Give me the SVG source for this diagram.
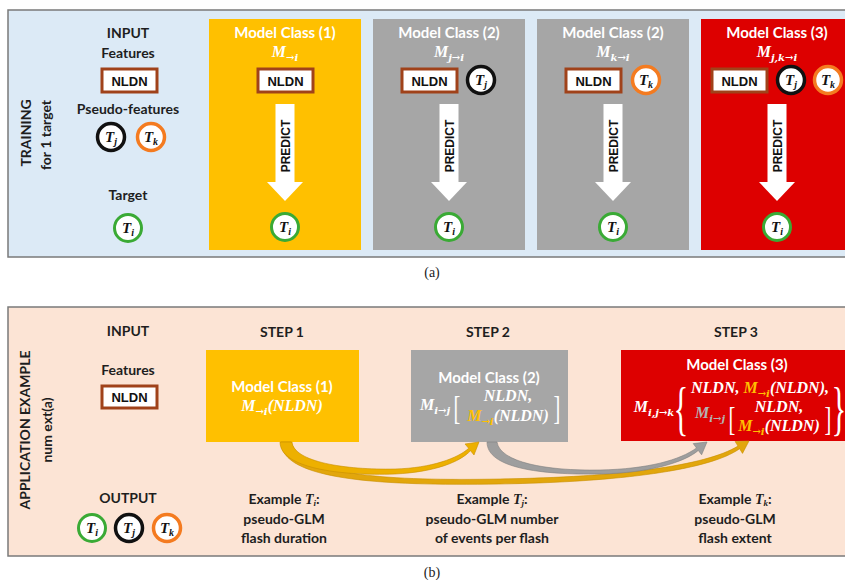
<svg xmlns="http://www.w3.org/2000/svg" width="845" height="580" viewBox="0 0 845 580">
<defs>
<style>
.lbl{font-family:Lato,"Open Sans","Liberation Sans",sans-serif;font-weight:700;font-size:14px;fill:#1e1e1e;text-anchor:middle}
.hdr{font-family:Lato,"Open Sans","Liberation Sans",sans-serif;font-weight:700;font-size:15px;fill:#fff;text-anchor:middle}
.math{font-family:"Liberation Serif",serif;font-style:italic;font-weight:700;font-size:16px;fill:#fff;text-anchor:middle}
.sub{font-family:"DejaVu Serif","Liberation Serif",serif;font-size:10px;font-style:italic;font-weight:700}
.cm{font-family:"Liberation Serif",serif;font-style:italic;font-weight:700;font-size:15px;fill:#111;text-anchor:middle}
.nb{fill:#fff;stroke:#A0421A;stroke-width:3}
.nt{font-family:"Liberation Sans",Arial,sans-serif;font-weight:700;font-size:13px;fill:#111;text-anchor:middle}
.cg{fill:#fff;stroke:#3AAA35;stroke-width:3}
.cb{fill:#fff;stroke:#111;stroke-width:3.5}
.co{fill:#fff;stroke:#F47B20;stroke-width:3.5}
.pt{font-family:"Liberation Sans",Arial,sans-serif;font-weight:700;font-size:12px;fill:#111;text-anchor:middle}
.cap{font-family:"Liberation Serif",serif;font-size:14px;fill:#222;text-anchor:middle}
.dl{font-family:"Liberation Serif",serif;font-weight:400;fill:#fff;text-anchor:middle}
.y{fill:#FFC000}
.g{fill:#B4B4B4}
.ex{font-family:"Liberation Serif",serif;font-style:italic;font-weight:700}
</style>
</defs>

<!-- Panel (a) -->
<g id="panel-a">
<rect x="8" y="10" width="850" height="247" fill="#DCEAF6" stroke="#7A7A7A" stroke-width="1.5"/>
<text class="lbl" transform="translate(25,133) rotate(-90)" dominant-baseline="central">TRAINING</text>
<text class="lbl" transform="translate(45,135) rotate(-90)" dominant-baseline="central">for 1 target</text>
</g>

<g id="input-a">
<text class="lbl" x="128" y="38">INPUT</text>
<text class="lbl" x="128" y="58">Features</text>
<rect class="nb" x="102" y="69" width="55" height="23"/>
<text class="nt" x="129.5" y="85.5">NLDN</text>
<text class="lbl" x="128" y="114">Pseudo-features</text>
<circle class="cb" cx="111" cy="137" r="13.5"/>
<text class="cm" x="111" y="142">T<tspan font-size="10" dy="3">j</tspan></text>
<circle class="co" cx="151" cy="137" r="13.5"/>
<text class="cm" x="151" y="142">T<tspan font-size="10" dy="3">k</tspan></text>
<text class="lbl" x="128" y="200">Target</text>
<circle class="cg" cx="128" cy="228" r="13.5"/>
<text class="cm" x="128" y="233">T<tspan font-size="10" dy="3">i</tspan></text>
</g>

<g id="class1-a">
<rect x="209" y="19" width="152" height="231" fill="#FFC000"/>
<text class="hdr" x="285" y="38">Model Class (1)</text>
<text class="math" x="285" y="57">M<tspan class="sub" dy="4">→i</tspan></text>
<rect class="nb" x="258" y="69" width="55" height="23"/>
<text class="nt" x="285.5" y="85.5">NLDN</text>
<rect x="275.5" y="104" width="19" height="79" fill="#fff"/>
<polygon points="267,182 303,182 285,201" fill="#fff"/>
<text class="pt" transform="translate(286,146) rotate(-90)" dominant-baseline="central">PREDICT</text>
<circle class="cg" cx="285" cy="227" r="13.5"/>
<text class="cm" x="285" y="232">T<tspan font-size="10" dy="3">i</tspan></text>
</g>

<g id="class2j-a">
<rect x="373" y="19" width="152" height="231" fill="#A6A6A6"/>
<text class="hdr" x="449" y="38">Model Class (2)</text>
<text class="math" x="449" y="57">M<tspan class="sub" dy="4">j→i</tspan></text>
<rect class="nb" x="402" y="69" width="55" height="23"/>
<text class="nt" x="429.5" y="85.5">NLDN</text>
<circle class="cb" cx="481" cy="80" r="13.5"/>
<text class="cm" x="481" y="85">T<tspan font-size="10" dy="3">j</tspan></text>
<rect x="439.5" y="104" width="19" height="79" fill="#fff"/>
<polygon points="431,182 467,182 449,201" fill="#fff"/>
<text class="pt" transform="translate(450,146) rotate(-90)" dominant-baseline="central">PREDICT</text>
<circle class="cg" cx="449" cy="227" r="13.5"/>
<text class="cm" x="449" y="232">T<tspan font-size="10" dy="3">i</tspan></text>
</g>

<g id="class2k-a">
<rect x="537" y="19" width="152" height="231" fill="#A6A6A6"/>
<text class="hdr" x="613" y="38">Model Class (2)</text>
<text class="math" x="613" y="57">M<tspan class="sub" dy="4">k→i</tspan></text>
<rect class="nb" x="566" y="69" width="55" height="23"/>
<text class="nt" x="593.5" y="85.5">NLDN</text>
<circle class="co" cx="646" cy="80" r="13.5"/>
<text class="cm" x="646" y="85">T<tspan font-size="10" dy="3">k</tspan></text>
<rect x="603.5" y="104" width="19" height="79" fill="#fff"/>
<polygon points="595,182 631,182 613,201" fill="#fff"/>
<text class="pt" transform="translate(614,146) rotate(-90)" dominant-baseline="central">PREDICT</text>
<circle class="cg" cx="613" cy="227" r="13.5"/>
<text class="cm" x="613" y="232">T<tspan font-size="10" dy="3">i</tspan></text>
</g>

<g id="class3-a">
<rect x="701" y="19" width="152" height="231" fill="#DD0000"/>
<text class="hdr" x="777" y="38">Model Class (3)</text>
<text class="math" x="777" y="57">M<tspan class="sub" dy="4">j,k→i</tspan></text>
<rect class="nb" x="712" y="69" width="55" height="23"/>
<text class="nt" x="739.5" y="85.5">NLDN</text>
<circle class="cb" cx="791" cy="80" r="13.5"/>
<text class="cm" x="791" y="85">T<tspan font-size="10" dy="3">j</tspan></text>
<circle class="co" cx="828" cy="80" r="13.5"/>
<text class="cm" x="828" y="85">T<tspan font-size="10" dy="3">k</tspan></text>
<rect x="767.5" y="104" width="19" height="79" fill="#fff"/>
<polygon points="759,182 795,182 777,201" fill="#fff"/>
<text class="pt" transform="translate(778,146) rotate(-90)" dominant-baseline="central">PREDICT</text>
<circle class="cg" cx="777" cy="227" r="13.5"/>
<text class="cm" x="777" y="232">T<tspan font-size="10" dy="3">i</tspan></text>
</g>

<text class="cap" x="432" y="277">(a)</text>

<!-- Panel (b) -->
<g id="panel-b">
<rect x="8" y="307" width="850" height="249" fill="#FCE4D5" stroke="#7A7A7A" stroke-width="1.5"/>
<text class="lbl" transform="translate(24,430) rotate(-90)" dominant-baseline="central">APPLICATION EXAMPLE</text>
<text class="lbl" transform="translate(46,430) rotate(-90)" dominant-baseline="central">num ext(a)</text>
</g>

<g id="input-b">
<text class="lbl" x="128" y="336">INPUT</text>
<text class="lbl" x="128" y="375">Features</text>
<rect class="nb" x="102" y="386" width="55" height="22"/>
<text class="nt" x="129.5" y="402">NLDN</text>
</g>

<g id="output-b">
<text class="lbl" x="128" y="503">OUTPUT</text>
<circle class="cg" cx="92" cy="528" r="13.5"/>
<text class="cm" x="92" y="533">T<tspan font-size="10" dy="3">i</tspan></text>
<circle class="cb" cx="129" cy="528" r="13.5"/>
<text class="cm" x="129" y="533">T<tspan font-size="10" dy="3">j</tspan></text>
<circle class="co" cx="167" cy="528" r="13.5"/>
<text class="cm" x="167" y="533">T<tspan font-size="10" dy="3">k</tspan></text>
</g>

<g id="step1">
<text class="lbl" x="282" y="337">STEP 1</text>
<rect x="206" y="350" width="153" height="92" fill="#FFC000"/>
<text class="hdr" x="282" y="392">Model Class (1)</text>
<text class="math" x="282" y="411">M<tspan class="sub" dy="4">→i</tspan><tspan dy="-4">(NLDN)</tspan></text>
<text class="lbl" x="284" y="504">Example <tspan class="ex">T</tspan><tspan class="ex" font-size="9" dy="2">i</tspan><tspan dy="-2">:</tspan></text>
<text class="lbl" x="284" y="524">pseudo-GLM</text>
<text class="lbl" x="284" y="543">flash duration</text>
</g>

<g id="step2">
<text class="lbl" x="488" y="337">STEP 2</text>
<rect x="411" y="350" width="157" height="92" fill="#A6A6A6"/>
<text class="hdr" x="489" y="383">Model Class (2)</text>
<text class="math" x="435" y="410">M<tspan class="sub" dy="4">i→j</tspan></text>
<text class="dl" x="0" y="0" font-size="34" transform="translate(457,419) scale(0.6,1)">[</text>
<text class="math" x="508" y="401">NLDN,</text>
<text class="math" x="508" y="421"><tspan class="y">M</tspan><tspan class="y sub" dy="4">→i</tspan><tspan dy="-4">(NLDN)</tspan></text>
<text class="dl" x="0" y="0" font-size="34" transform="translate(557,419) scale(0.6,1)">]</text>
<text class="lbl" x="492" y="504">Example <tspan class="ex">T</tspan><tspan class="ex" font-size="9" dy="2">j</tspan><tspan dy="-2">:</tspan></text>
<text class="lbl" x="492" y="524">pseudo-GLM number</text>
<text class="lbl" x="492" y="543">of events per flash</text>
</g>

<g id="step3">
<text class="lbl" x="736" y="337">STEP 3</text>
<rect x="621" y="350" width="232" height="91" fill="#DD0000"/>
<text class="hdr" x="737" y="370">Model Class (3)</text>
<text class="math" x="654" y="412">M<tspan class="sub" dy="4">i,j→k</tspan></text>
<text class="dl" x="0" y="0" font-size="44" transform="translate(681,428) scale(0.7,1.35)">{</text>
<text class="math" x="760" y="393">NLDN, <tspan class="y">M</tspan><tspan class="y sub" dy="4">→i</tspan><tspan dy="-4">(NLDN),</tspan></text>
<text class="math" x="710" y="418"><tspan class="g">M</tspan><tspan class="g sub" dy="4">i→j</tspan></text>
<text class="dl" x="0" y="0" font-size="34" transform="translate(732,430) scale(0.6,1)">[</text>
<text class="math" x="779" y="412">NLDN,</text>
<text class="math" x="779" y="431"><tspan class="y">M</tspan><tspan class="y sub" dy="4">→i</tspan><tspan dy="-4">(NLDN)</tspan></text>
<text class="dl" x="0" y="0" font-size="34" transform="translate(828,430) scale(0.6,1)">]</text>
<text class="dl" x="0" y="0" font-size="44" transform="translate(839,428) scale(0.7,1.35)">}</text>
<text class="lbl" x="735" y="504">Example <tspan class="ex">T</tspan><tspan class="ex" font-size="9" dy="2">k</tspan><tspan dy="-2">:</tspan></text>
<text class="lbl" x="735" y="524">pseudo-GLM</text>
<text class="lbl" x="735" y="543">flash extent</text>
</g>

<g id="connectors">
<path d="M 281 442 C 281 480, 380 486, 500 484 C 620 482, 710 470, 739.6 448.7 L 742.5 453.4 L 749 441 L 735.1 441.5 L 738 446.1 C 705 466, 620 477, 500 479 C 390 481, 300 476, 291 442 Z" fill="#E2A60C" stroke="#C88E00" stroke-width="0.6"/>
<path d="M 280 442 C 280 468, 340 476, 395 474 C 435 472, 460 462, 470.5 450.7 L 474 455 L 479 442 L 465 444 L 468.7 448.3 C 458 458, 432 468, 395 469 C 345 470, 294 462, 292 442 Z" fill="#EDB000" stroke="#C88E00" stroke-width="0.6"/>
<path d="M 487 442 C 487 468, 540 475, 600 474 C 650 473, 685 462, 698.3 450.4 L 701.6 454.8 L 707 442 L 693.2 443.6 L 696.5 448 C 680 460, 648 469, 600 470 C 545 471, 500 462, 497 442 Z" fill="#9E9E9E" stroke="#808080" stroke-width="0.6"/>
</g>

<text class="cap" x="432" y="577">(b)</text>
</svg>
